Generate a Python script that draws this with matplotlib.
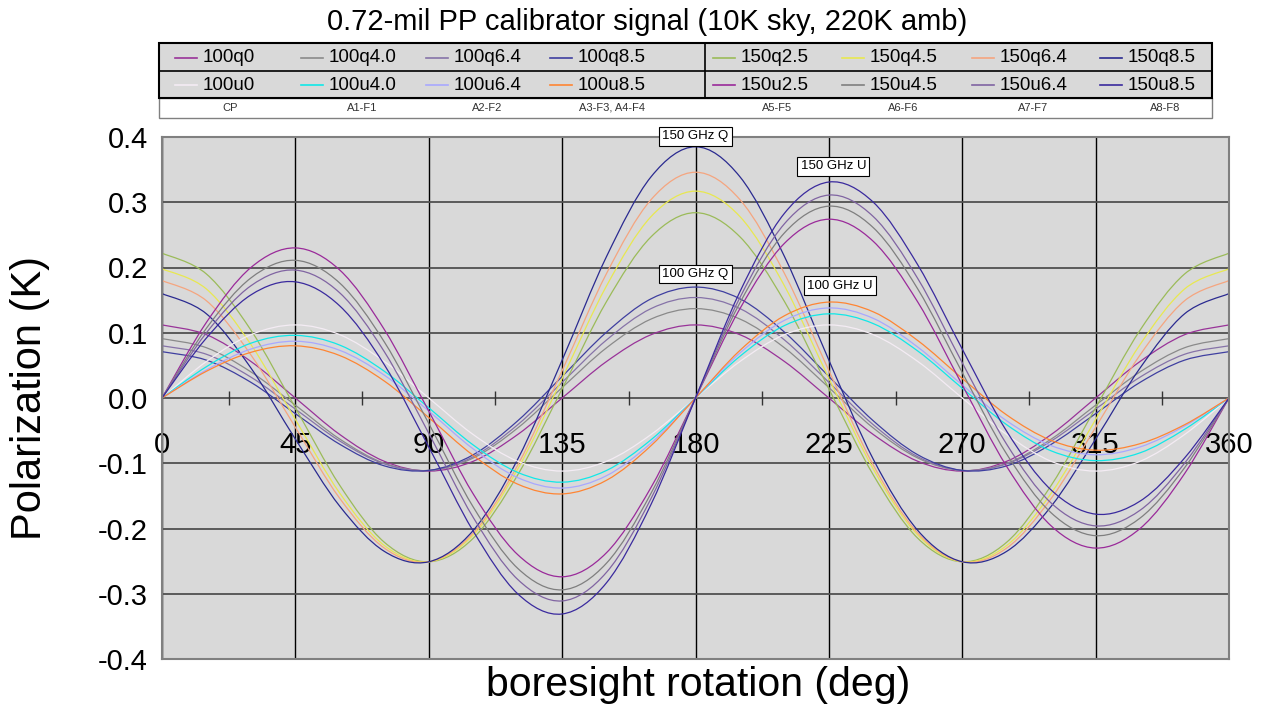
import numpy as np
import matplotlib
matplotlib.use("Agg")
import matplotlib.pyplot as plt
from matplotlib.patches import Rectangle, PathPatch
from matplotlib.path import Path

plt.rcParams['font.family'] = ['Liberation Sans', 'DejaVu Sans']

# boresight rotation angles (deg)
angles = list(range(0, 361, 15))

# 100 GHz Q
q100_0 = [.112, .097, .056, 0, -.056, -.097, -.112, -.097, -.056, 0, .056, .097, .112,
          .097, .056, 0, -.056, -.097, -.112, -.097, -.056, 0, .056, .097, .112]
q100_40 = [.091, .077, .040, -.011, -.063, -.100, -.111, -.092, -.046, .016, .077, .121, .137,
           .121, .077, .016, -.046, -.092, -.111, -.100, -.063, -.011, .040, .077, .091]
q100_64 = [.080, .067, .032, -.017, -.066, -.101, -.111, -.090, -.041, .024, .089, .137, .154,
           .137, .089, .024, -.041, -.090, -.111, -.101, -.066, -.017, .032, .067, .080]
q100_85 = [.071, .058, .024, -.024, -.071, -.104, -.111, -.087, -.035, .033, .101, .152, .170,
           .152, .101, .033, -.035, -.087, -.111, -.104, -.071, -.024, .024, .058, .071]

# 100 GHz U
u100_0 = [0, .056, .097, .112, .097, .056, 0, -.056, -.097, -.112, -.097, -.056, 0,
          .056, .097, .112, .097, .056, 0, -.056, -.097, -.112, -.097, -.056, 0]
u100_40 = [0, .048, .084, .096, .081, .041, -.015, -.072, -.114, -.129, -.111, -.064, 0,
           .064, .111, .129, .114, .072, .015, -.041, -.081, -.096, -.084, -.048, 0]
u100_64 = [0, .043, .075, .087, .073, .035, -.020, -.078, -.122, -.138, -.119, -.069, 0,
           .069, .119, .138, .122, .078, .020, -.035, -.073, -.087, -.075, -.043, 0]
u100_85 = [0, .041, .070, .080, .065, .026, -.030, -.088, -.132, -.147, -.126, -.073, 0,
           .073, .126, .147, .132, .088, .030, -.026, -.065, -.080, -.070, -.041, 0]

# 150 GHz Q
q150_25 = [.222, .190, .104, -.015, -.134, -.221, -.251, -.215, -.118, .014, .148, .247, .284,
           .247, .148, .014, -.118, -.215, -.251, -.221, -.134, -.015, .104, .190, .222]
q150_45 = [.198, .167, .082, -.033, -.146, -.226, -.251, -.210, -.109, .030, .172, .278, .317,
           .278, .172, .030, -.109, -.210, -.251, -.226, -.146, -.033, .082, .167, .198]
q150_64 = [.180, .149, .066, -.045, -.154, -.230, -.251, -.207, -.103, .042, .191, .304, .346,
           .304, .191, .042, -.103, -.207, -.251, -.230, -.154, -.045, .066, .149, .180]
q150_85 = [.160, .129, .046, -.063, -.166, -.235, -.251, -.203, -.094, .058, .217, .339, .385,
           .339, .217, .058, -.094, -.203, -.251, -.235, -.166, -.063, .046, .129, .160]

# 150 GHz U
u150_25 = [0, .116, .200, .230, .196, .105, -.020, -.147, -.240, -.274, -.237, -.137, 0,
           .137, .237, .274, .240, .147, .020, -.105, -.196, -.230, -.200, -.116, 0]
u150_45 = [0, .107, .184, .211, .176, .086, -.039, -.167, -.261, -.294, -.253, -.146, 0,
           .146, .253, .294, .261, .167, .039, -.086, -.176, -.211, -.184, -.107, 0]
u150_64 = [0, .100, .172, .196, .161, .071, -.054, -.183, -.278, -.311, -.267, -.154, 0,
           .154, .267, .311, .278, .183, .054, -.071, -.161, -.196, -.172, -.100, 0]
u150_85 = [0, .092, .158, .178, .141, .051, -.075, -.204, -.300, -.331, -.283, -.163, 0,
           .163, .283, .331, .300, .204, .075, -.051, -.141, -.178, -.158, -.092, 0]

row1_labels = ['100q0', '100q4.0', '100q6.4', '100q8.5', '150q2.5', '150q4.5', '150q6.4', '150q8.5']
row1_data = [q100_0, q100_40, q100_64, q100_85, q150_25, q150_45, q150_64, q150_85]
row1_colors = ['#993399', '#8a8a8a', '#8673a8', '#3f3fa0', '#9bbb59', '#e8e850', '#f5a57f', '#2a2a90']

row2_labels = ['100u0', '100u4.0', '100u6.4', '100u8.5', '150u2.5', '150u4.5', '150u6.4', '150u8.5']
row2_data = [u100_0, u100_40, u100_64, u100_85, u150_25, u150_45, u150_64, u150_85]
row2_colors = ['#f4ecf4', '#10e8e8', '#a8a8ff', '#ff8533', '#9a2a9a', '#7f7f7f', '#8064a2', '#3a2a9e']

row3_labels = ['CP', 'A1-F1', 'A2-F2', 'A3-F3, A4-F4', 'A5-F5', 'A6-F6', 'A7-F7', 'A8-F8']


def smooth_line(xs, ys):
    # spreadsheet style "smoothed line": bezier segments through the points
    pts = np.column_stack([xs, ys]).astype(float)
    n = len(pts)
    verts = [pts[0]]
    codes = [Path.MOVETO]
    for i in range(n - 1):
        p0 = pts[i - 1] if i > 0 else pts[i]
        p1 = pts[i]
        p2 = pts[i + 1]
        p3 = pts[i + 2] if i + 2 < n else pts[i + 1]
        verts += [p1 + (p2 - p0) / 6, p2 - (p3 - p1) / 6, p2]
        codes += [Path.CURVE4] * 3
    return Path(verts, codes)


W, H = 1265, 705
fig = plt.figure(figsize=(W / 100, H / 100), dpi=100)
ax = fig.add_axes([162 / W, 1 - 659 / H, (1229 - 162) / W, (659 - 137) / H])
ax.set_facecolor('#d9d9d9')
ax.set_xlim(0, 360)
ax.set_ylim(-0.4, 0.4)

# grid
for gx in range(0, 361, 45):
    ax.axvline(gx, color='black', lw=1, zorder=1)
for gy in np.arange(-0.4, 0.41, 0.1):
    ax.axhline(gy, color='#505050', lw=1.3, zorder=1)
ax.vlines(np.arange(22.5, 360, 45), -0.011, 0.011, color='#333333', lw=1, zorder=1)

# x labels sit on the zero line
for gx in range(0, 361, 45):
    ax.text(gx, -0.072, str(gx), ha='center', va='center', fontsize=21, zorder=1.5)

for data, col in zip(row1_data + row2_data, row1_colors + row2_colors):
    ax.add_patch(PathPatch(smooth_line(angles, data), fill=False, ec=col, lw=0.9, zorder=2))

ax.set_xticks([])
yt = np.round(np.arange(0.4, -0.41, -0.1), 1)
ax.set_yticks(yt)
ax.set_yticklabels([f'{v:.1f}'.replace('-0.0', '0.0') for v in yt])
ax.tick_params(axis='y', length=0, pad=10, labelsize=21)
for sp in ax.spines.values():
    sp.set_color('#808080')
    sp.set_linewidth(1.5)

box = dict(boxstyle='square,pad=0.25', fc='white', ec='black', lw=0.8)
ax.text(180, 0.401, '150 GHz Q', ha='center', va='center', fontsize=9.5, bbox=box, zorder=5)
ax.text(226.5, 0.355, '150 GHz U', ha='center', va='center', fontsize=9.5, bbox=box, zorder=5)
ax.text(180, 0.190, '100 GHz Q', ha='center', va='center', fontsize=9.5, bbox=box, zorder=5)
ax.text(228.7, 0.172, '100 GHz U', ha='center', va='center', fontsize=9.5, bbox=box, zorder=5)

fig.text(30 / W, 1 - 398 / H, 'Polarization (K)', rotation=90, fontsize=30, ha='center', va='center')
fig.text(698 / W, 1 - 685 / H, 'boresight rotation (deg)', fontsize=29.5, ha='center', va='center')
fig.text(647 / W, 1 - 22 / H, '0.72-mil PP calibrator signal (10K sky, 220K amb)', fontsize=21,
         ha='center', va='center')

# legend table drawn in pixel space
lax = fig.add_axes([0, 0, 1, 1])
lax.set_xlim(0, W)
lax.set_ylim(H, 0)
lax.axis('off')
lax.patch.set_alpha(0)

lax.add_patch(Rectangle((159, 98.3), 1212 - 159, 19.4, fc='white', ec='#808080', lw=1))
lax.add_patch(Rectangle((159, 42.7), 1212 - 159, 98.3 - 42.7, fc='#d9d9d9', ec='black', lw=1.5))
lax.plot([159, 1212], [71, 71], color='black', lw=1.2)
lax.plot([705, 705], [42.7, 98.3], color='black', lw=1.2)

col_x = [175, 301, 426, 550, 713, 842, 972, 1100]
for row_y, labs, cols in [(58, row1_labels, row1_colors), (85, row2_labels, row2_colors)]:
    for cx, lab, col in zip(col_x, labs, cols):
        lax.plot([cx, cx + 22], [row_y, row_y], color=col, lw=1.2)
        lax.text(cx + 28, row_y, lab, ha='left', va='center', fontsize=13.5)

row3_x = [230, 362, 487, 612, 777, 903, 1033, 1165]
for cx, lab in zip(row3_x, row3_labels):
    lax.text(cx, 108, lab, ha='center', va='center', fontsize=8, color='#333333')

fig.savefig('out.png', dpi=100)
